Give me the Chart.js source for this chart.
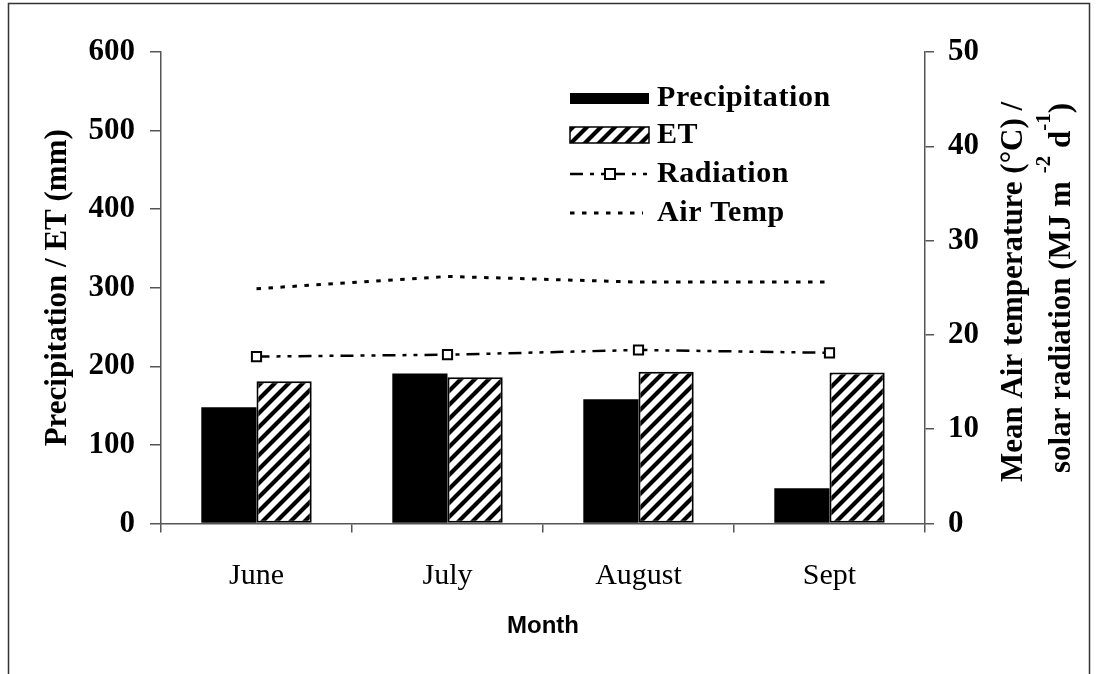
<!DOCTYPE html>
<html>
<head>
<meta charset="utf-8">
<script src="https://cdn.jsdelivr.net/npm/chart.js@4.4.1/dist/chart.umd.min.js"></script>
<style>
  html, body { margin: 0; padding: 0; background: #fff; }
  #wrap { width: 1097px; height: 674px; position: relative; }
</style>
</head>
<body>
<div id="wrap"><canvas id="chart" width="1097" height="674"></canvas></div>
<script>
const months = ['June', 'July', 'August', 'Sept'];
const precipitation = [148, 191, 158, 45];
const et = [181, 186, 193, 192];
const radiation = [17.7, 17.9, 18.4, 18.1];
const airTemp = [24.9, 26.2, 25.6, 25.6];

const leftTitle = 'Precipitation / ET (mm)';
const rightTitle1 = 'Mean Air temperature (\u00B0C) /';
const xTitle = 'Month';

const SERIF = '"Liberation Serif", "Times New Roman", serif';
const SANS = '"Liberation Sans", Arial, sans-serif';
const AXIS_GREY = '#555';

const canvas = document.getElementById('chart');
const ctx = canvas.getContext('2d');

// diagonal hatch for the ET bars
function makeHatch() {
    const s = 14;
    const c = document.createElement('canvas');
    c.width = s; c.height = s;
    const g = c.getContext('2d');
    g.fillStyle = '#fff';
    g.fillRect(0, 0, s, s);
    g.strokeStyle = '#000';
    g.lineWidth = 4.2;
    g.beginPath();
    g.moveTo(-s / 2, s / 2); g.lineTo(s / 2, -s / 2);
    g.moveTo(0, s); g.lineTo(s, 0);
    g.moveTo(s / 2, s * 1.5); g.lineTo(s * 1.5, s / 2);
    g.stroke();
    return ctx.createPattern(c, 'repeat');
}
const hatch = makeHatch();

const RAD_DASH = [13, 7, 4, 7, 4, 7];
const TEMP_DASH = [4.5, 7.5];

// frame, legend inside the plot, right-hand axis title
const extras = {
    id: 'extras',
    afterDraw(chart) {
        const c = chart.ctx;
        c.save();

        // outer frame
        c.strokeStyle = '#333';
        c.lineWidth = 1.5;
        c.strokeRect(8.5, 3.5, 1081, 720);

        // legend
        const ds = chart.data.datasets;
        const byLabel = l => ds.find(d => d.label === l);
        const order = ['Precipitation', 'ET', 'Radiation', 'Air Temp'];
        const rowsY = [98, 135, 174, 213];
        const x0 = 570, x1 = 649, textX = 657;
        c.font = 'bold 30px ' + SERIF;
        c.letterSpacing = '0.6px';
        c.textBaseline = 'middle';
        c.textAlign = 'left';
        c.fillStyle = '#000';
        order.forEach((name, i) => {
            const d = byLabel(name);
            const y = rowsY[i];
            if (name === 'Precipitation') {
                c.fillStyle = d.backgroundColor;
                c.fillRect(x0, y - 5, x1 - x0, 11);
            } else if (name === 'ET') {
                c.fillStyle = d.backgroundColor;
                c.fillRect(x0, y - 8, x1 - x0, 16);
                c.strokeStyle = '#000';
                c.lineWidth = 1.5;
                c.setLineDash([]);
                c.strokeRect(x0, y - 8, x1 - x0, 16);
            } else if (name === 'Radiation') {
                c.strokeStyle = '#000';
                c.lineWidth = 2.5;
                c.setLineDash(RAD_DASH);
                c.beginPath(); c.moveTo(x0, y); c.lineTo(x1, y); c.stroke();
                c.setLineDash([]);
                c.fillStyle = '#fff';
                c.fillRect(605, y - 5, 10, 10);
                c.lineWidth = 2;
                c.strokeRect(605, y - 5, 10, 10);
            } else {
                c.strokeStyle = '#000';
                c.lineWidth = 3;
                c.setLineDash(TEMP_DASH);
                c.beginPath(); c.moveTo(x0, y); c.lineTo(643, y); c.stroke();
                c.setLineDash([]);
            }
            c.fillStyle = '#000';
            c.fillText(d.label, textX, y);
        });
        c.letterSpacing = '0px';

        // right axis title, two lines reading bottom to top
        const cy = 292;
        c.font = 'bold 31px ' + SERIF;
        c.textBaseline = 'alphabetic';
        c.textAlign = 'center';
        c.save();
        c.translate(1022, cy);
        c.rotate(-Math.PI / 2);
        c.fillText(rightTitle1, 0, 0);
        c.restore();

        const parts = [
            ['solar radiation (MJ m ', false],
            ['-2', true],
            [' d', false],
            ['-1', true],
            [')', false]
        ];
        const mainFont = 'bold 31px ' + SERIF;
        const supFont = 'bold 21px ' + SERIF;
        let total = 0;
        parts.forEach(p => {
            c.font = p[1] ? supFont : mainFont;
            total += c.measureText(p[0]).width;
        });
        c.save();
        c.translate(1070, 288);
        c.rotate(-Math.PI / 2);
        c.textAlign = 'left';
        let px = -total / 2;
        parts.forEach(p => {
            c.font = p[1] ? supFont : mainFont;
            c.fillText(p[0], px, p[1] ? -20 : 0);
            px += c.measureText(p[0]).width;
        });
        c.restore();

        c.restore();
    }
};

Chart.defaults.font.family = SERIF;
Chart.defaults.color = '#000';

new Chart(canvas, {
    type: 'bar',
    data: {
        labels: months,
        datasets: [
            {
                type: 'line',
                label: 'Radiation',
                data: radiation,
                yAxisID: 'y1',
                borderColor: '#000',
                borderWidth: 2.5,
                borderDash: RAD_DASH,
                pointStyle: 'rect',
                pointRadius: 6.5,
                pointBackgroundColor: '#fff',
                pointBorderColor: '#000',
                pointBorderWidth: 2,
                tension: 0,
                fill: false,
                order: 0
            },
            {
                type: 'line',
                label: 'Air Temp',
                data: airTemp,
                yAxisID: 'y1',
                borderColor: '#000',
                borderWidth: 3,
                borderDash: TEMP_DASH,
                pointRadius: 0,
                tension: 0,
                fill: false,
                order: 0
            },
            {
                label: 'Precipitation',
                data: precipitation,
                yAxisID: 'y',
                backgroundColor: '#000',
                borderWidth: 0,
                order: 1
            },
            {
                label: 'ET',
                data: et,
                yAxisID: 'y',
                backgroundColor: hatch,
                borderColor: '#000',
                borderWidth: 2,
                borderSkipped: false,
                order: 1
            }
        ]
    },
    options: {
        responsive: false,
        animation: false,
        events: [],
        categoryPercentage: 0.578,
        barPercentage: 1,
        layout: { padding: { top: 52, left: 0, right: 0, bottom: 0 } },
        plugins: {
            legend: { display: false },
            tooltip: { enabled: false }
        },
        scales: {
            x: {
                offset: true,
                afterFit: s => { s.height = 150.5; },
                grid: {
                    display: true,
                    offset: true,
                    drawOnChartArea: false,
                    drawTicks: true,
                    tickLength: 9,
                    color: AXIS_GREY,
                    lineWidth: 1.5
                },
                border: { display: true, color: AXIS_GREY, width: 1.5 },
                ticks: {
                    padding: 26,
                    font: { family: SERIF, size: 30, weight: 'normal' },
                    color: '#000'
                },
                title: {
                    display: true,
                    text: xTitle,
                    font: { family: SANS, size: 24, weight: 'bold' },
                    color: '#000',
                    padding: { top: 0, bottom: 33 }
                }
            },
            y: {
                position: 'left',
                min: 0,
                max: 600,
                afterFit: s => { s.width = 161; },
                grid: {
                    display: true,
                    drawOnChartArea: false,
                    tickLength: 11,
                    color: AXIS_GREY,
                    lineWidth: 1.5
                },
                border: { display: true, color: AXIS_GREY, width: 1.5 },
                ticks: {
                    stepSize: 100,
                    padding: 15,
                    font: { family: SERIF, size: 31, weight: 'bold' },
                    color: '#000'
                },
                title: {
                    display: true,
                    text: leftTitle,
                    font: { family: SERIF, size: 31, weight: 'bold' },
                    color: '#000',
                    padding: { top: 39, bottom: 0 }
                }
            },
            y1: {
                position: 'right',
                min: 0,
                max: 50,
                afterFit: s => { s.width = 172; },
                grid: {
                    display: true,
                    drawOnChartArea: false,
                    tickLength: 9,
                    color: AXIS_GREY,
                    lineWidth: 1.5
                },
                border: { display: true, color: AXIS_GREY, width: 1.5 },
                ticks: {
                    stepSize: 10,
                    padding: 14,
                    font: { family: SERIF, size: 31, weight: 'bold' },
                    color: '#000'
                }
            }
        }
    },
    plugins: [extras]
});
</script>
</body>
</html>
